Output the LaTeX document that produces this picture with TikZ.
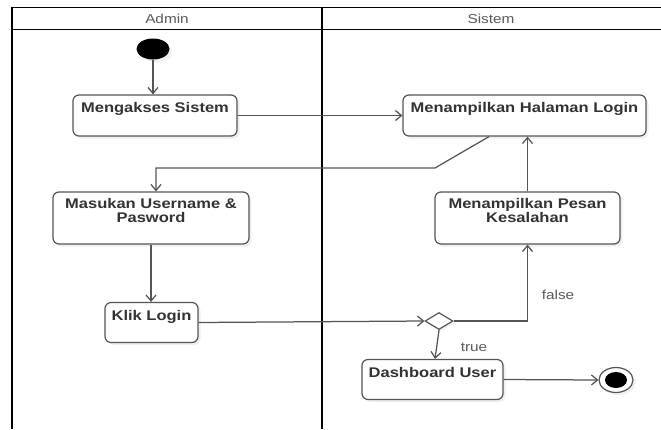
\documentclass[tikz,border=0pt]{standalone}
\usepackage{fontspec}
\setmainfont{Liberation Sans}[FakeStretch=1.18]
\usetikzlibrary{arrows.meta,shapes.geometric,shadows,calc}
\definecolor{lineg}{HTML}{555555}
\definecolor{txtg}{HTML}{333333}
\definecolor{lblg}{HTML}{5A5A5A}
\begin{document}
\begin{tikzpicture}[x=1pt,y=-1pt,
  act/.style={draw=lineg, line width=1.2pt, rounded corners=6pt, fill=white,
    drop shadow={shadow xshift=2.5pt,shadow yshift=-2.5pt,fill=black!12}, inner sep=0},
  acttext/.style={font=\bfseries\fontsize{14}{13.5}\selectfont, text=txtg, align=center, inner sep=0, anchor=north},
  flow/.style={draw=lineg, line width=1.25pt, -{Straight Barb[length=6pt,width=10pt,line width=1.25pt]}},
  plain/.style={draw=lineg, line width=1.25pt},
  lane/.style={draw=black, line width=1.6pt},
  lbl/.style={font=\fontsize{13}{14}\selectfont, text=lblg, inner sep=0}]

\path[use as bounding box] (0,0) rectangle (661,429);

% swimlanes
\draw[lane] (12,429) -- (12,7.5) -- (662,7.5);
\draw[lane] (12,29.5) -- (662,29.5);
\draw[lane] (322,7.5) -- (322,429);
\node[lbl] (hA) at (167,19) {Admin};
\node[lbl] (hS) at (491,19) {Sistem};

% nodes
\node[ellipse, fill=black, minimum width=33pt, minimum height=21pt, inner sep=0,
  drop shadow={shadow xshift=3pt,shadow yshift=-3pt,fill=black!10}] (start) at (153,49) {};

\node[act, minimum width=164pt, minimum height=41pt] (m1) at (155,115.5) {};
\node[acttext] (m1t) at ([yshift=-7.5pt]m1.north) {Mengakses Sistem};

\node[act, minimum width=243pt, minimum height=41pt] (login) at (524.5,115.5) {};
\node[acttext] (logint) at ([yshift=-7.5pt]login.north) {Menampilkan Halaman Login};

\node[act, minimum width=196pt, minimum height=52pt] (masuk) at (151,218) {};
\node[acttext] (masukt) at ([yshift=-7pt]masuk.north) {Masukan Username \&\\Pasword};

\node[act, minimum width=185pt, minimum height=52pt] (pesan) at (527.5,218) {};
\node[acttext] (pesant) at ([yshift=-7pt]pesan.north) {Menampilkan Pesan\\Kesalahan};

\node[act, minimum width=93pt, minimum height=40pt] (klik) at (151.5,322.5) {};
\node[acttext] (klikt) at ([yshift=-8.5pt]klik.north) {Klik Login};

\node[diamond, draw=lineg, line width=1.2pt, fill=white, aspect=1.65,
  minimum width=28pt, minimum height=17pt, inner sep=0,
  drop shadow={shadow xshift=2pt,shadow yshift=-2pt,fill=black!10}] (dec) at (439,321) {};

\node[act, minimum width=141pt, minimum height=40pt] (dash) at (432.5,379.5) {};
\node[acttext] (dasht) at ([yshift=-8.5pt]dash.north) {Dashboard User};

\node[ellipse, draw=lineg, line width=1.2pt, fill=white, minimum width=34pt, minimum height=25pt, inner sep=0,
  drop shadow={shadow xshift=2.5pt,shadow yshift=-2.5pt,fill=black!10}] (end) at (616,380) {};
\node[ellipse, fill=black, minimum width=22pt, minimum height=16pt, inner sep=0] (endin) at (end.center) {};

% connectors
\coordinate (b1) at (435,168);
\coordinate (b2) at (156,168);
\draw[flow] (start.south) -- (start.south |- m1.north);
\draw[flow] (m1.east) -- (login.west);
\draw[flow] ([xshift=-35.5pt]login.south) -- (b1) -- (b2) -- (b2 |- masuk.north);
\draw[flow] (masuk.south) -- (masuk.south |- klik.north);
\draw[flow] (klik.east) -- (dec.west);
\draw[flow] (dec.east) -| (pesan.south);
\draw[flow] (pesan.north) -- (pesan.north |- login.south);
\draw[flow] (dec.south) -- ([xshift=2.5pt]dash.north);
\draw[flow] (dash.east) -- (end.west);

\node[lbl] (lf) at (558,295) {false};
\node[lbl] (lt) at (474,347) {true};
\end{tikzpicture}
\end{document}
